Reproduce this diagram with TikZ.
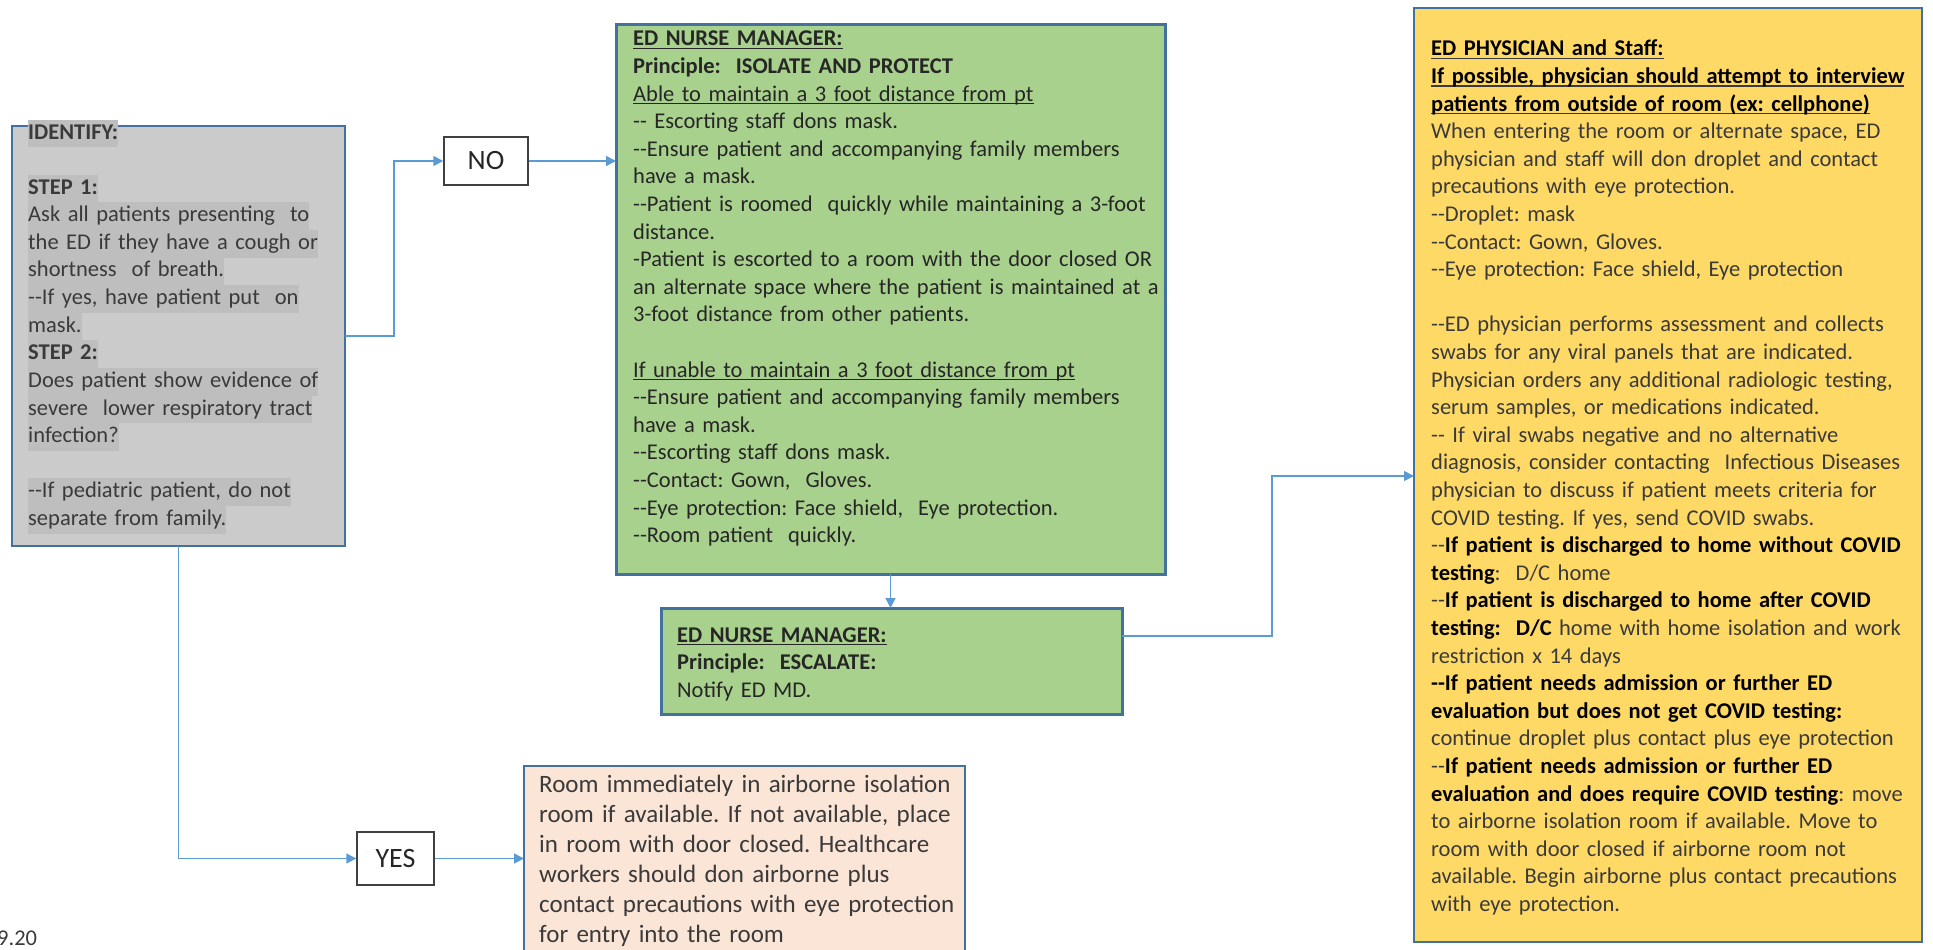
\documentclass[tikz,border=0pt]{standalone}
\usepackage{fontspec}
\setmainfont{Carlito}
\usetikzlibrary{arrows.meta}

\definecolor{graybox}{HTML}{CBCBCB}
\definecolor{hlgray}{HTML}{BEBEBE}
\definecolor{greenbox}{HTML}{A9D18E}
\definecolor{yellowbox}{HTML}{FFD966}
\definecolor{pinkbox}{HTML}{FBE5D6}
\definecolor{outline}{HTML}{41719C}
\definecolor{linkblue}{HTML}{5B9BD5}
\definecolor{ink}{HTML}{262626}
\definecolor{softink}{HTML}{3A3A3A}

% two plain hyphens (no en dash ligature)
\newcommand\dd{-{}-}
% grey text highlight used in the IDENTIFY panel
\newcommand\hlg[1]{{\setlength{\fboxsep}{0pt}\colorbox{hlgray}{\strut#1}}}
% underline drawn as a rule below the text
\newcommand\uln[1]{\leavevmode\setbox0\hbox{#1}\rlap{\rule[-3.2pt]{\wd0}{1.3pt}}\box0}
\newcommand\bodyfont{\fontsize{22.5}{27.6}\selectfont}

\begin{document}
\frenchspacing
\begin{tikzpicture}[x=1pt,y=-1pt,
  panel/.style={rectangle, draw=outline, anchor=north west, inner sep=0pt, outer sep=0pt},
  txt/.style={anchor=base west, inner sep=0pt, text width=620pt, align=left, font=\bodyfont, text=ink},
  tag/.style={rectangle, draw=black!75, line width=1.5pt, fill=white, inner sep=0pt,
    font=\fontsize{28}{30}\selectfont, text=ink},
  flow/.style={draw=linkblue, line width=1.6pt, -{Triangle[length=10pt,width=10pt]}}]

\useasboundingbox (0,0) rectangle (1933,950);
\clip (0,0) rectangle (1933,950);

% ---- panels ----
\node[panel, fill=graybox, line width=2pt, minimum width=333pt, minimum height=420pt] (identify) at (12,126) {};
\node[panel, fill=greenbox, line width=3pt, minimum width=549pt, minimum height=549pt] (isolate) at (616,25) {};
\node[panel, fill=greenbox, line width=3pt, minimum width=461pt, minimum height=106pt] (escalate) at (661,608) {};
\node[panel, fill=yellowbox, line width=2pt, minimum width=508pt, minimum height=934pt] (physician) at (1414,8) {};
\node[panel, fill=pinkbox, line width=2pt, minimum width=441pt, minimum height=200pt] (airborne) at (524,766) {};

\node[tag, minimum width=84pt, minimum height=48pt] (no) at (486,161) {NO};
\node[tag, minimum width=77pt, minimum height=53pt] (yes) at (395.5,858.5) {YES};

% ---- panel texts ----
\node[txt, text=softink] (identifytxt) at (28,139) {%
\hlg{\textbf{IDENTIFY:}}\\[27.6pt]
\hlg{\textbf{STEP 1:}}\\
\hlg{Ask all patients presenting\ \ to}\\
\hlg{the ED if they have a cough or}\\
\hlg{shortness\ \ of breath.}\\
\hlg{\dd If yes, have patient put\ \ on}\\
\hlg{mask.}\\
\hlg{\textbf{STEP 2:}}\\
\hlg{Does patient show evidence of}\\
\hlg{severe\ \ lower respiratory tract}\\
\hlg{infection?}\\[27.6pt]
\hlg{\dd If pediatric patient, do not}\\
\hlg{separate from family.}};

\node[txt] (isolatetxt) at (633,46) {%
\uln{\textbf{ED NURSE MANAGER:}}\\
\textbf{Principle:\ \ ISOLATE AND PROTECT}\\
\uln{Able to maintain a 3 foot distance from pt}\\
\dd{} Escorting staff dons mask.\\
\dd Ensure patient and accompanying family members\\
have a mask.\\
\dd Patient is roomed\ \ quickly while maintaining a 3-foot\\
distance.\\
-Patient is escorted to a room with the door closed OR\\
an alternate space where the patient is maintained at a\\
3-foot distance from other patients.\\[27.6pt]
\uln{If unable to maintain a 3 foot distance from pt}\\
\dd Ensure patient and accompanying family members\\
have a mask.\\
\dd Escorting staff dons mask.\\
\dd Contact: Gown,\ \ Gloves.\\
\dd Eye protection: Face shield,\ \ Eye protection.\\
\dd Room patient\ \ quickly.};

\node[txt] (escalatetxt) at (677,642) {%
\uln{\textbf{ED NURSE MANAGER:}}\\
\textbf{Principle:\ \ ESCALATE:}\\
Notify ED MD.};

\node[txt, text=softink] (physiciantxt) at (1431,56) {%
\uln{\textbf{\color{black}ED PHYSICIAN and Staff:}}\\
\uln{\textbf{\color{black}If possible, physician should attempt to interview}}\\
\uln{\textbf{\color{black}patients from outside of room (ex: cellphone)}}\\
When entering the room or alternate space, ED\\
physician and staff will don droplet and contact\\
precautions with eye protection.\\
\dd Droplet: mask\\
\dd Contact: Gown, Gloves.\\
\dd Eye protection: Face shield, Eye protection\\[27.6pt]
\dd ED physician performs assessment and collects\\
swabs for any viral panels that are indicated.\\
Physician orders any additional radiologic testing,\\
serum samples, or medications indicated.\\
\dd{} If viral swabs negative and no alternative\\
diagnosis, consider contacting\ \ Infectious Diseases\\
physician to discuss if patient meets criteria for\\
COVID testing. If yes, send COVID swabs.\\
\dd\textbf{\color{black}If patient is discharged to home without COVID}\\
\textbf{\color{black}testing}:\ \ D/C home\\
\dd\textbf{\color{black}If patient is discharged to home after COVID}\\
\textbf{\color{black}testing:\ \ D/C} home with home isolation and work\\
restriction x 14 days\\
\textbf{\color{black}\dd If patient needs admission or further ED}\\
\textbf{\color{black}evaluation but does not get COVID testing:}\\
continue droplet plus contact plus eye protection\\
\dd\textbf{\color{black}If patient needs admission or further ED}\\
\textbf{\color{black}evaluation and does require COVID testing}:\ move\\
to airborne isolation room if available. Move to\\
room with door closed if airborne room not\\
available. Begin airborne plus contact precautions\\
with eye protection.};

\node[txt, text=softink, font=\fontsize{25}{30}\selectfont] (airbornetxt) at (539,792) {%
Room immediately in airborne isolation\\
room if available. If not available, place\\
in room with door closed. Healthcare\\
workers should don airborne plus\\
contact precautions with eye protection\\
for entry into the room};

\node[txt, text=softink] (datestamp) at (-3,945) {9.20};

% ---- connectors ----
\coordinate (escOut) at (1272,636);
\coordinate (phyIn) at (1272,476);

\draw[flow] (identify.east) -- ++(49,0) |- (no.west);
\draw[flow] (no.east) -- (isolate.west |- no.east);
\draw[flow] (isolate.south) -- (isolate.south |- escalate.north);
\draw[flow] (escalate.east |- escOut) -- (escOut) -- (phyIn) -- (physician.west |- phyIn);
\draw[flow] (identify.south) |- (yes.west);
\draw[flow] (yes.east) -- (yes.east -| airborne.west);
\end{tikzpicture}
\end{document}
